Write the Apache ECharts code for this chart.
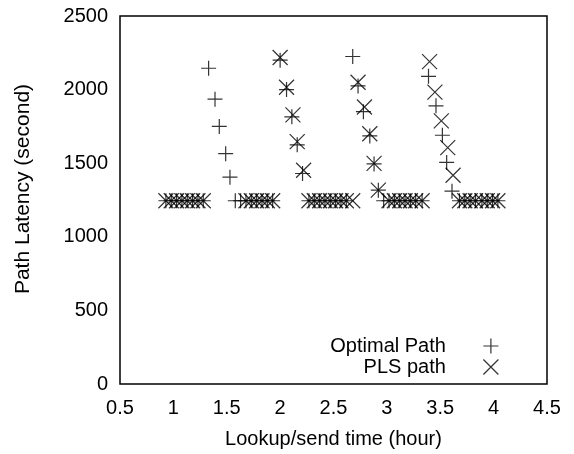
<!DOCTYPE html>
<html>
<head>
    <meta charset="utf-8" />
    <title>Path Latency</title>
    <script src="https://cdn.jsdelivr.net/npm/echarts@6.0.0/dist/echarts.min.js"></script>
    <style>
        html, body { margin: 0; padding: 0; background: #fff; }
        #main { width: 574px; height: 454px; }
    </style>
</head>
<body>
    <div id="main"></div>
    <script>
        // 数据：横轴时间(小时)，纵轴路径延迟(秒)
        var optTime = [0.93, 0.98, 1.03, 1.08, 1.13, 1.18, 1.23, 1.28,
            1.33, 1.39, 1.43, 1.49, 1.53,
            1.58, 1.63, 1.68, 1.73, 1.78, 1.83, 1.88, 1.93,
            2.00, 2.06, 2.11, 2.16, 2.21,
            2.27, 2.32, 2.37, 2.42, 2.47, 2.52, 2.57, 2.62,
            2.68, 2.73, 2.78, 2.84, 2.88, 2.92,
            2.97, 3.02, 3.07, 3.12, 3.17, 3.22, 3.27, 3.33,
            3.39, 3.46, 3.52, 3.56, 3.61,
            3.68, 3.73, 3.78, 3.83, 3.89, 3.94, 3.99, 4.04];
        var optLatency = [1245, 1245, 1245, 1245, 1245, 1245, 1245, 1245,
            2145, 1935, 1750, 1565, 1405,
            1245, 1245, 1245, 1245, 1245, 1245, 1245, 1245,
            2200, 2000, 1815, 1625, 1430,
            1245, 1245, 1245, 1245, 1245, 1245, 1245, 1245,
            2225, 2025, 1850, 1685, 1495, 1317,
            1245, 1245, 1245, 1245, 1245, 1245, 1245, 1245,
            2090, 1890, 1690, 1505, 1310,
            1245, 1245, 1245, 1245, 1245, 1245, 1245, 1245];

        var plsTime = [0.93, 0.98, 1.03, 1.08, 1.13, 1.18, 1.23, 1.28,
            1.68, 1.73, 1.78, 1.83, 1.88, 1.93,
            2.00, 2.06, 2.12, 2.16, 2.22,
            2.27, 2.32, 2.37, 2.42, 2.47, 2.52, 2.57, 2.62, 2.68,
            2.73, 2.79, 2.84, 2.88, 2.92,
            3.02, 3.07, 3.12, 3.17, 3.22, 3.27, 3.33,
            3.40, 3.45, 3.51, 3.57, 3.62,
            3.68, 3.73, 3.78, 3.83, 3.89, 3.94, 3.99, 4.04];
        var plsLatency = [1245, 1245, 1245, 1245, 1245, 1245, 1245, 1245,
            1245, 1245, 1245, 1245, 1245, 1245,
            2218, 2016, 1828, 1647, 1452,
            1245, 1245, 1245, 1245, 1245, 1245, 1245, 1245, 1245,
            2050, 1882, 1700, 1499, 1317,
            1245, 1245, 1245, 1245, 1245, 1245, 1245,
            2190, 1983, 1788, 1606, 1418,
            1245, 1245, 1245, 1245, 1245, 1245, 1245, 1245];

        var seriesNames = ['Optimal Path', 'PLS path'];
        var xTitle = 'Lookup/send time (hour)';
        var yTitle = 'Path Latency (second)';

        var plusPath = 'path://M0,5 L10,5 M5,0 L5,10';
        var crossPath = 'path://M0,0 L10,10 M10,0 L0,10';
        var fontFamily = '"Liberation Sans", Arial, Helvetica, sans-serif';

        function pairs(xs, ys) {
            var out = [];
            for (var i = 0; i < xs.length; i++) {
                out.push([xs[i], ys[i]]);
            }
            return out;
        }

        var markStyle = {
            color: 'rgba(0,0,0,0)',
            borderColor: '#000',
            borderWidth: 1.2
        };

        var myChart = echarts.init(document.getElementById('main'), null, { renderer: 'canvas' });
        myChart.setOption({
            animation: false,
            backgroundColor: '#fff',
            grid: {
                left: 120,
                right: 27,
                top: 16,
                bottom: 66,
                show: true,
                borderColor: '#000',
                borderWidth: 1.5,
                backgroundColor: 'transparent'
            },
            legend: {
                data: seriesNames,
                orient: 'vertical',
                align: 'right',
                right: 75,
                top: 336,
                padding: 0,
                itemGap: 1,
                itemWidth: 80,
                itemHeight: 15,
                textStyle: { fontSize: 20, color: '#000', fontFamily: fontFamily },
                itemStyle: markStyle
            },
            xAxis: {
                type: 'value',
                min: 0.5,
                max: 4.5,
                interval: 0.5,
                name: xTitle,
                nameLocation: 'middle',
                nameGap: 45,
                nameTextStyle: { fontSize: 20, color: '#000', fontFamily: fontFamily },
                axisLine: { show: false },
                axisTick: { show: false },
                splitLine: { show: false },
                axisLabel: { fontSize: 20, color: '#000', margin: 14, fontFamily: fontFamily }
            },
            yAxis: {
                type: 'value',
                min: 0,
                max: 2500,
                interval: 500,
                axisLine: { show: false },
                axisTick: { show: false },
                splitLine: { show: false },
                axisLabel: {
                    fontSize: 20, color: '#000', margin: 12, fontFamily: fontFamily,
                    formatter: function (v) { return String(v); }
                }
            },
            graphic: [{
                type: 'text',
                x: 23,
                y: 189,
                rotation: Math.PI / 2,
                style: {
                    text: yTitle,
                    fontSize: 21,
                    fontFamily: fontFamily,
                    fill: '#000',
                    align: 'center',
                    verticalAlign: 'middle'
                }
            }],
            series: [{
                name: seriesNames[0],
                type: 'scatter',
                symbol: plusPath,
                symbolSize: 15,
                itemStyle: markStyle,
                data: pairs(optTime, optLatency)
            }, {
                name: seriesNames[1],
                type: 'scatter',
                symbol: crossPath,
                symbolSize: 15,
                itemStyle: markStyle,
                data: pairs(plsTime, plsLatency)
            }]
        });
    </script>
</body>
</html>
